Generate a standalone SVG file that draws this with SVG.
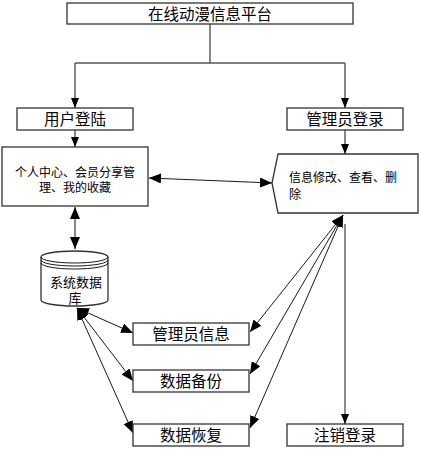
<svg xmlns="http://www.w3.org/2000/svg" width="421" height="451" viewBox="0 0 421 451">
<style>
.box{fill:#fff;stroke:#333;stroke-width:1.3}
.t{font-family:"Liberation Sans","Noto Sans CJK SC",sans-serif;fill:#000}
.big{font-size:15.5px}
.sm{font-size:12px}
.gl{fill:none;stroke:#555;stroke-width:1.4}
.bl{fill:none;stroke:#000;stroke-width:0.9}
</style>
<defs>
<marker id="ah" markerUnits="userSpaceOnUse" markerWidth="12" markerHeight="10" refX="12" refY="5" orient="auto-start-reverse">
<path d="M0,0 L12,5 L0,10 Z" fill="#000"/>
</marker>
<marker id="as" markerUnits="userSpaceOnUse" markerWidth="10" markerHeight="8" refX="10" refY="4" orient="auto-start-reverse">
<path d="M0,0 L10,4 L0,8 Z" fill="#000"/>
</marker>
</defs>
<rect width="421" height="451" fill="#fff"/>
<g id="connectors">
<path class="gl" d="M210,24 V63 M75,63 H345"/>
<line class="gl" x1="75" y1="63" x2="75" y2="108" marker-end="url(#as)"/>
<line class="gl" x1="345" y1="63" x2="345" y2="108" marker-end="url(#as)"/>
<line class="gl" x1="75" y1="130" x2="75" y2="147" marker-end="url(#as)"/>
<line class="gl" x1="345" y1="130" x2="345" y2="154" marker-end="url(#as)"/>
<line class="bl" x1="149" y1="178" x2="272" y2="183" marker-start="url(#ah)" marker-end="url(#ah)"/>
<line class="gl" x1="75" y1="207" x2="75" y2="249" marker-start="url(#ah)" marker-end="url(#ah)"/>
<line class="bl" x1="77" y1="308" x2="133" y2="333" marker-start="url(#ah)" marker-end="url(#ah)"/>
<line class="bl" x1="77" y1="308" x2="133" y2="381" marker-start="url(#ah)" marker-end="url(#ah)"/>
<line class="bl" x1="77" y1="308" x2="133" y2="433" marker-start="url(#ah)" marker-end="url(#ah)"/>
<line class="bl" x1="343" y1="215" x2="250" y2="332" marker-start="url(#ah)" marker-end="url(#ah)"/>
<line class="bl" x1="343" y1="215" x2="250" y2="374" marker-start="url(#ah)" marker-end="url(#ah)"/>
<line class="bl" x1="343" y1="215" x2="250" y2="428" marker-start="url(#ah)" marker-end="url(#ah)"/>
<line class="bl" x1="345" y1="224" x2="345" y2="424" marker-end="url(#as)"/>
</g>
<g id="platform">
<rect class="box" x="67" y="3" width="286" height="21"/>
<text class="t big" x="210" y="19.5" text-anchor="middle">在线动漫信息平台</text>
</g>
<g id="user-login">
<rect class="box" x="17" y="108" width="116" height="22"/>
<text class="t big" x="75" y="124.5" text-anchor="middle">用户登陆</text>
</g>
<g id="admin-login">
<rect class="box" x="287" y="108" width="116" height="22"/>
<text class="t big" x="345" y="124.5" text-anchor="middle">管理员登录</text>
</g>
<g id="personal">
<rect class="box" x="2" y="147" width="146" height="59"/>
<text class="t sm" x="75" y="176.5" text-anchor="middle">个人中心、会员分享管</text>
<text class="t sm" x="75" y="191.5" text-anchor="middle">理、我的收藏</text>
</g>
<g id="info-edit">
<polygon class="box" points="278,154 418,154 418,213 278,213 272,183"/>
<text class="t sm" x="289" y="182">信息修改、查看、删</text>
<text class="t sm" x="289" y="199">除</text>
</g>
<g id="database">
<path class="box" d="M41,257 V300 A33.5,6 0 0 0 108,300 V257 A33.5,6 0 0 0 41,257 Z"/>
<path class="bl" d="M41,257 A33.5,6 0 0 0 108,257 M41,260 A33.5,6 0 0 0 108,260 M41,263 A33.5,6 0 0 0 108,263" stroke="#333"/>
<text class="t" font-size="13" x="76" y="286.5" text-anchor="middle">系统数据</text>
<text class="t" font-size="13" x="75" y="302.5" text-anchor="middle">库</text>
</g>
<g id="admin-info">
<rect class="box" x="133" y="323" width="116" height="22"/>
<text class="t big" x="191" y="339.5" text-anchor="middle">管理员信息</text>
</g>
<g id="backup">
<rect class="box" x="133" y="370" width="116" height="22"/>
<text class="t big" x="191" y="386.5" text-anchor="middle">数据备份</text>
</g>
<g id="restore">
<rect class="box" x="133" y="424" width="116" height="22"/>
<text class="t big" x="191" y="440.5" text-anchor="middle">数据恢复</text>
</g>
<g id="logout">
<rect class="box" x="287" y="424" width="116" height="22"/>
<text class="t big" x="345" y="440.5" text-anchor="middle">注销登录</text>
</g>
</svg>
